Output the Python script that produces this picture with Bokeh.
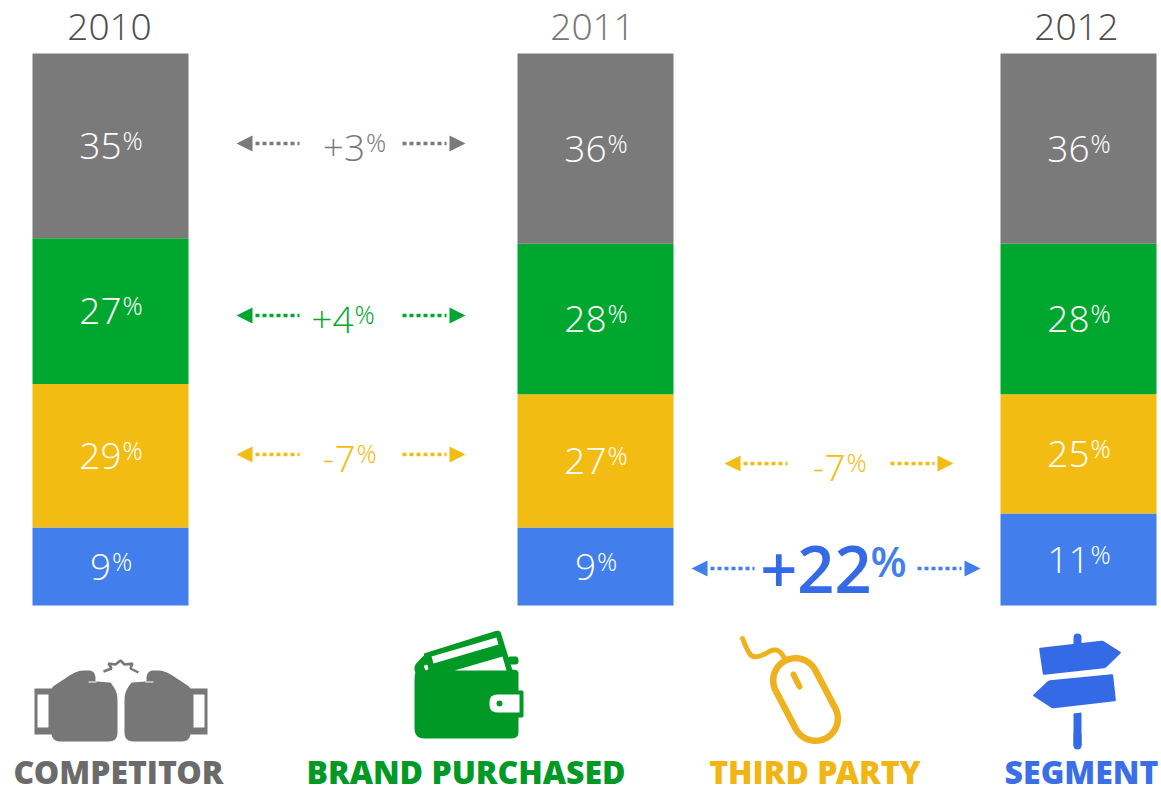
import numpy as np
from bokeh.core.properties import value
from bokeh.embed import file_html
from bokeh.models import ColumnDataSource, Range1d
from bokeh.plotting import figure
from bokeh.resources import INLINE

# Share of each source by year
years = ["2010", "2011", "2012"]
segment = [9, 9, 11]
third_party = [29, 27, 25]
brand_purchased = [27, 28, 28]
competitor = [35, 36, 36]

# Year-on-year changes, in the order they are drawn
delta_labels = ["+3", "+4", "-7", "-7", "+22"]
category_names = ["COMPETITOR", "BRAND PURCHASED", "THIRD PARTY", "SEGMENT"]

GREY, GREEN, YELLOW, BLUE = "#7a7a7a", "#00a72f", "#f3bc12", "#427fed"
ICON_GREY, ICON_GREEN, ICON_YELLOW, ICON_BLUE = "#777777", "#009925", "#eeb220", "#356ae6"
LIGHT = value("Open Sans Light")
SEMIBOLD = value("Open Sans SemiBold")
HEAVY = value("Open Sans ExtraBold")

# Columns use a non-uniform height scale: thin bottom segments are enlarged so
# their labels fit. Percent stacked -> height in layout units.
SCALE_PCT = [0, 9, 11, 37, 64.5, 100]
SCALE_HEIGHT = [0, 78, 92, 216, 364.5, 552]
BASE_Y = 605


def stack_y(pct):
    return BASE_Y - np.interp(pct, SCALE_PCT, SCALE_HEIGHT)


def baseline(y, size):
    """Middle-anchor position that puts a text of this pixel size on the baseline y."""
    return y - 0.40 * size


p = figure(width=1161, height=789, x_range=Range1d(0, 1161), y_range=Range1d(789, 0),
           x_axis_type=None, y_axis_type=None, toolbar_location=None,
           output_backend="svg", min_border=0, outline_line_color=None,
           background_fill_color="white", border_fill_color="white")
p.grid.visible = False


def pct_label(cx, cy, number, color, size=37, psize=25, digit=21, pwidth=20, pct_rise=11,
              font=LIGHT):
    """Number with a raised % sign, centred on cx; cy is the number's baseline."""
    split = cx - (len(number) * digit + pwidth) / 2 + len(number) * digit
    p.text([split], [baseline(cy, size)], text=[number], text_color=color, text_font=font,
           text_font_size=f"{size}px", text_align="right", text_baseline="middle")
    p.text([split + 1], [baseline(cy - pct_rise, psize)], text=["%"], text_color=color, text_font=font,
           text_font_size=f"{psize}px", text_align="left", text_baseline="middle")


# Stacked columns, bottom to top
column_x = [110, 595, 1078]
stack_order = [(segment, BLUE), (third_party, YELLOW), (brand_purchased, GREEN), (competitor, GREY)]
running = np.zeros(3)
for values, color in stack_order:
    vals = np.array(values, dtype=float)
    src = ColumnDataSource(dict(x=column_x, bottom=stack_y(running), top=stack_y(running + vals)))
    p.vbar(x="x", width=156, bottom="bottom", top="top", source=src, fill_color=color, line_color=None)
    for cx, v, b, t in zip(column_x, values, src.data["bottom"], src.data["top"]):
        pct_label(cx, (b + t) / 2 + 15, str(v), "white")
    running += vals

# Year headings
for x, year, color in zip([109, 592, 1076], years, ["#4e4e4e", "#777777", "#4e4e4e"]):
    p.text([x], [26], text=[year], text_color=color, text_font=LIGHT,
           text_font_size="37px", text_align="center", text_baseline="middle")


def double_arrow(x_left, x_right, y, color):
    """Dotted arrows pointing outwards, leaving a gap for the label between them."""
    p.patches([[x_left, x_left + 16, x_left + 16], [x_right, x_right - 16, x_right - 16]],
              [[y, y - 8, y + 8], [y, y - 8, y + 8]], fill_color=color, line_color=None)
    p.multi_line([[x_left + 19, x_left + 63], [x_right - 63, x_right - 19]], [[y, y], [y, y]],
                 line_color=color, line_width=3.5, line_dash="4 3")


for (x0, x1, y, color, label, cx) in zip([236, 236, 236, 724], [465, 465, 465, 953],
                                         [143, 315, 454, 463], [GREY, GREEN, YELLOW, YELLOW],
                                         delta_labels[:4], [353.5, 342, 344, 834]):
    double_arrow(x0, x1, y, color)
    pct_label(cx, y + 19, label, color)

double_arrow(691, 980, 568, BLUE)
split_x = 871
p.text([split_x], [baseline(595, 65)], text=[delta_labels[4]], text_color=ICON_BLUE, text_font=SEMIBOLD,
       text_font_size="65px", text_align="right", text_baseline="middle")
p.text([split_x - 1], [baseline(577, 42)], text=["%"], text_color=BLUE, text_font=SEMIBOLD,
       text_font_size="42px", text_align="left", text_baseline="middle")


def rounded(points, r):
    """Polygon outline with its corners rounded off by radius r (one value or one per corner)."""
    pts = np.array(points, dtype=float)
    radii = np.broadcast_to(r, len(pts))
    out = []
    n = len(pts)
    for i in range(n):
        a, b, c = pts[i - 1], pts[i], pts[(i + 1) % n]
        ra = min(radii[i], np.linalg.norm(a - b) / 2)
        rc = min(radii[i], np.linalg.norm(c - b) / 2)
        start = b + (a - b) / np.linalg.norm(a - b) * ra
        end = b + (c - b) / np.linalg.norm(c - b) * rc
        for t in np.linspace(0, 1, 7):
            out.append((1 - t) ** 2 * start + 2 * t * (1 - t) * b + t ** 2 * end)
    out = np.array(out)
    return out[:, 0].tolist(), out[:, 1].tolist()


def shape(points, color, r=0.0):
    xs, ys = rounded(points, r)
    p.patch(xs, ys, fill_color=color, line_color=None)


def smooth(points, rounds=3):
    """Corner-cutting smoother for hand-placed curve points."""
    pts = np.array(points, dtype=float)
    for _ in range(rounds):
        q = 0.75 * pts[:-1] + 0.25 * pts[1:]
        s = 0.25 * pts[:-1] + 0.75 * pts[1:]
        mid = np.empty((2 * len(q), 2))
        mid[0::2], mid[1::2] = q, s
        pts = np.vstack([pts[:1], mid, pts[-1:]])
    return pts[:, 0].tolist(), pts[:, 1].tolist()


# Boxing gloves
for mirror in (False, True):
    fx = (lambda x: 241 - x) if mirror else (lambda x: x)
    glove = [(51, 687, 3), (72, 673, 8), (80, 670, 4), (92, 670, 4), (95, 675, 3), (95, 681, 1),
             (110, 682, 1), (117, 692, 8), (117, 741, 9), (51, 741, 9)]
    shape([(fx(x), y) for x, y, _ in glove], ICON_GREY, np.array([g[2] for g in glove]))
    shape([(fx(34), 688), (fx(52), 688), (fx(52), 734), (fx(34), 734)], ICON_GREY)
    shape([(fx(37), 694), (fx(48), 694), (fx(48), 727), (fx(37), 727)], "white")
    shape([(fx(88), 681), (fx(96), 681), (fx(96), 682), (fx(88), 682)], "white")
p.line([103, 111, 108, 115, 120, 124, 132, 130, 138], [671, 668, 663, 664, 660, 664, 663, 668, 672],
       line_color=ICON_GREY, line_width=2.5)

# Wallet
shape([(423, 653), (497, 630), (500, 631), (512, 670), (430, 680)], ICON_GREEN, 2)
shape([(507, 656), (518, 656), (518, 664), (507, 664)], ICON_GREEN, 3.5)
shape([(426, 655), (518, 670), (518, 738), (414, 738), (414, 668)], ICON_GREEN,
      np.array([10, 3, 7, 10, 12]))
shape([(423, 655), (500, 650), (500, 672), (414, 672), (414, 665)], ICON_GREEN, 3)
shape([(431, 656), (496, 637), (498, 644), (433, 663)], "white")
shape([(454, 670), (502, 656), (506, 670)], "white")
shape([(423, 665), (427, 664), (428, 669), (425, 670)], "white", 1.5)
shape([(510, 690), (523, 690), (523, 717), (510, 717)], ICON_GREEN, 2)
shape([(489, 694), (519, 694), (519, 712), (489, 712)], "white", np.array([8, 0.1, 0.1, 8]))
p.scatter([499], [703], size=6, fill_color=ICON_GREEN, line_color=None)

# Computer mouse
ends = np.array([[795.0, 680.0], [815.0, 718.0]])
axis_dir = (ends[1] - ends[0]) / np.linalg.norm(ends[1] - ends[0])
base_angle = np.arctan2(axis_dir[1], axis_dir[0])
ring_radius = 22.3
t1 = base_angle + np.linspace(np.pi / 2, 3 * np.pi / 2, 40)
t2 = base_angle + np.linspace(-np.pi / 2, np.pi / 2, 40)
ring_x = np.r_[ends[0, 0] + ring_radius * np.cos(t1), ends[1, 0] + ring_radius * np.cos(t2)]
ring_y = np.r_[ends[0, 1] + ring_radius * np.sin(t1), ends[1, 1] + ring_radius * np.sin(t2)]
p.line(np.r_[ring_x, ring_x[:1]].tolist(), np.r_[ring_y, ring_y[:1]].tolist(),
       line_color=ICON_YELLOW, line_width=6.5, line_join="round")
p.line([793, 799], [674, 686], line_color=ICON_YELLOW, line_width=6, line_cap="round")
cord_x, cord_y = smooth([(742, 638), (747, 650), (752, 657), (762, 655), (772, 649), (779, 650), (785, 659)])
p.line(cord_x, cord_y, line_color=ICON_YELLOW, line_width=5, line_cap="round", line_join="round")

# Signpost
p.line([1077, 1077], [637, 646], line_color=ICON_BLUE, line_width=8, line_cap="round")
shape([(1038.5, 647.5), (1102, 640), (1121, 652), (1105, 667.5), (1042.5, 674.5)], ICON_BLUE, 1.5)
shape([(1112.5, 673.5), (1115.5, 700.5), (1052, 708), (1032, 695), (1048, 680)], ICON_BLUE, 1.5)
shape([(1073, 713), (1081, 712), (1081, 745), (1073, 745)], ICON_BLUE)
p.line([1077, 1077], [735, 745], line_color=ICON_BLUE, line_width=8, line_cap="round")

# Category captions under the icons
for x, name, color in zip([118, 465.5, 814.5, 1081], category_names,
                          ["#6b6b6b", ICON_GREEN, "#f1b514", "#3a6fe8"]):
    p.text([x], [baseline(784, 32)], text=[name], text_color=color, text_font=HEAVY, text_font_style="bold",
           text_font_size="32px", text_align="center", text_baseline="middle")

open("out.html", "w").write(file_html(p, INLINE))
